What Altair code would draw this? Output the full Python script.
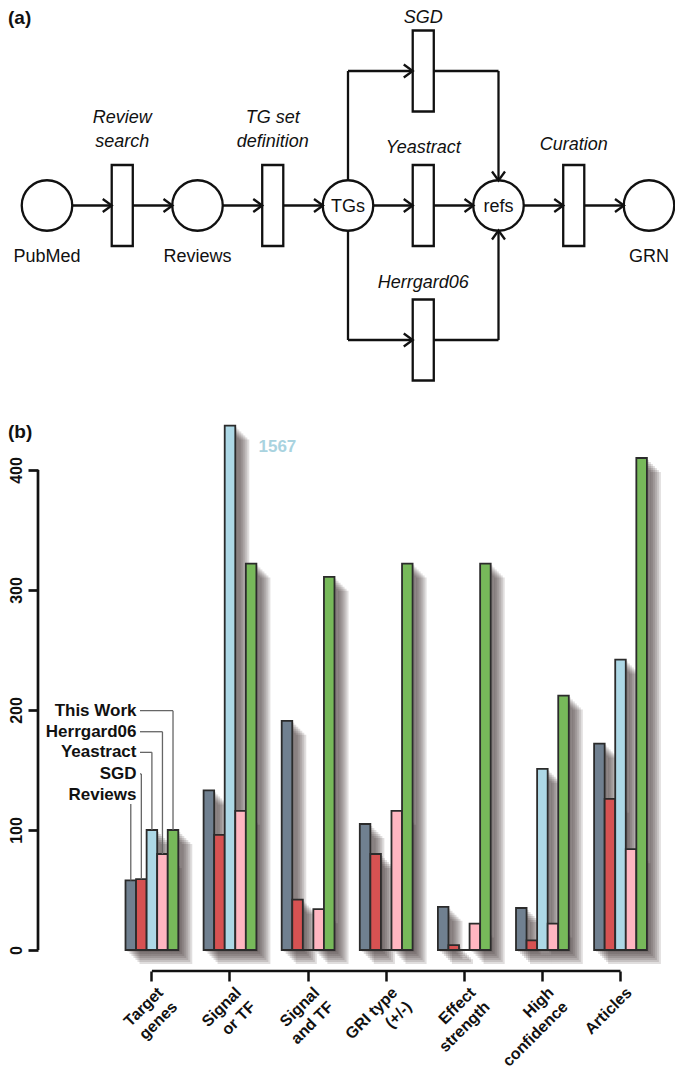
import altair as alt
import pandas as pd

FONT = "Liberation Sans"
INK = "#111111"

# ---------------- panel (b): values ----------------
categories = ["Target\ngenes", "Signal\nor TF", "Signal\nand TF", "GRI type\n(+/-)",
              "Effect\nstrength", "High\nconfidence", "Articles"]
series = ["Reviews", "SGD", "Yeastract", "Herrgard06", "This Work"]
reviews = [58, 133, 191, 105, 36, 35, 172]
sgd = [59, 96, 42, 80, 4, 8, 126]
yeastract = [100, 1567, 0, 0, 0, 151, 242]
herrgard06 = [80, 116, 34, 116, 22, 22, 84]
this_work = [100, 322, 311, 322, 322, 212, 410]
series_colors = ["#708090", "#d65252", "#add8e6", "#ffb6c1", "#77b95a"]
y_ticks = [0, 100, 200, 300, 400]

# hand-drawn legend (levels in value units)
legend_text_level = [129, 146.7, 164.7, 181.9, 199.4]
legend_line_top = [121.7, 146.7, 164.7, 181.9, 199.4]
legend_hline = [False, True, True, True, True]

# ---------------- panel (a): flow diagram ----------------
circle_names = ["PubMed", "Reviews", "TGs", "refs", "GRN"]
circle_step = [0, 2, 4, 6, 8]
circle_row = [0, 0, 0, 0, 0]
circle_inside = [False, False, True, True, False]

rect_names = ["Review\nsearch", "TG set\ndefinition", "SGD", "Yeastract", "Herrgard06", "Curation"]
rect_step = [1, 3, 5, 5, 5, 7]
rect_row = [0, 0, -1, 0, 1, 0]
rect_label_kind = ["two", "two", "top", "one", "one", "high"]

edge_s1 = [0, 4, 4, 6, 4, 4, 6]
edge_r1 = [0, 0, -1, -1, 0, 1, 1]
edge_s2 = [8, 4, 6, 6, 4, 6, 6]
edge_r2 = [0, -1, -1, 0, 1, 1, 0]

circle_arrow_step = [2, 4, 6, 8, 6, 6]
circle_arrow_row = [0, 0, 0, 0, 0, 0]
circle_arrow_angle = [0, 0, 0, 0, 90, 270]

# ---------------- layout constants (chart px = page px - 8) ----------------
VIEW_W, VIEW_H = 667, 1063
X_AXIS_Y = 963
X0_B, X1_B, PAD_IN = 117.5, 638.9, 0.324
Y0_B, Y1_B, YMAX = 942, 417.6, 437

RECT_PATH = "M-0.26,-1L0.26,-1L0.26,1L-0.26,1Z"
ARROW_RECT = "M-0.39,-0.13L-0.21,0L-0.39,0.13"
ARROW_CIRCLE = "M-0.68,-0.13L-0.5,0L-0.68,0.13"

# ---------------- data frames ----------------
bars_df = pd.DataFrame(
    [{"cat": c, "series": s, "value": v}
     for s, vals in zip(series, [reviews, sgd, yeastract, herrgard06, this_work])
     for c, v in zip(categories, vals)]
)
cat_df = pd.DataFrame({"cat": categories})
first_vals = [reviews[0], sgd[0], yeastract[0], herrgard06[0], this_work[0]]
legend_df = pd.DataFrame({
    "cat": [categories[0]] * len(series), "series": series, "value": first_vals,
    "level": legend_text_level, "top": legend_line_top, "hline": legend_hline,
})
circles_df = pd.DataFrame({"name": circle_names, "step": circle_step, "row": circle_row,
                           "inside": circle_inside})
rects_df = pd.DataFrame({"name": rect_names, "step": rect_step, "row": rect_row,
                         "kind": rect_label_kind})
edges_df = pd.DataFrame({"s1": edge_s1, "r1": edge_r1, "s2": edge_s2, "r2": edge_r2})
carrow_df = pd.DataFrame({"step": circle_arrow_step, "row": circle_arrow_row,
                          "angle": circle_arrow_angle})
one_df = pd.DataFrame({"k": [0]})

# ---------------- panel (a) layers ----------------


def dX(f):
    return alt.X(f, type="quantitative", axis=None,
                 scale=alt.Scale(domain=[0, 8], range=[39, 641]))


def dY(f):
    return alt.Y(f, type="quantitative", axis=None,
                 scale=alt.Scale(domain=[-1, 1], range=[63, 332]))


edges = alt.Chart(edges_df).mark_rule(color=INK, strokeWidth=2.3).encode(
    x=dX("s1"), x2="s2:Q", y=dY("r1"), y2="r2:Q")
circles = alt.Chart(circles_df).mark_point(
    shape="circle", size=2550, filled=True, fill="white", stroke=INK,
    strokeWidth=2.3, opacity=1).encode(x=dX("step"), y=dY("row"))
rects = alt.Chart(rects_df).mark_point(
    shape=RECT_PATH, size=6561, filled=True, fill="white", stroke=INK,
    strokeWidth=2.3, opacity=1).encode(x=dX("step"), y=dY("row"))
rect_arrows = alt.Chart(rects_df).mark_point(
    shape=ARROW_RECT, size=10000, filled=False, stroke=INK, strokeWidth=2.3,
    opacity=1, strokeJoin="miter").encode(x=dX("step"), y=dY("row"))
circle_arrows = alt.Chart(carrow_df).mark_point(
    shape=ARROW_CIRCLE, size=10000, filled=False, stroke=INK, strokeWidth=2.3,
    opacity=1, strokeJoin="miter").encode(
    x=dX("step"), y=dY("row"), angle=alt.Angle("angle:Q", scale=None))

txt = dict(font=FONT, fontSize=18, color=INK)
inner_labels = alt.Chart(circles_df).transform_filter("datum.inside").mark_text(
    align="center", baseline="middle", dy=1, **txt).encode(
    x=dX("step"), y=dY("row"), text="name:N")
outer_labels = alt.Chart(circles_df).transform_filter("!datum.inside").mark_text(
    align="center", baseline="alphabetic", dy=56, **txt).encode(
    x=dX("step"), y=dY("row"), text="name:N")


def step_label(kind, dy, **extra):
    return alt.Chart(rects_df).transform_filter(f"datum.kind == '{kind}'").mark_text(
        align="center", baseline="bottom", dy=dy, fontStyle="italic", **extra, **txt
    ).encode(x=dX("step"), y=dY("row"), text="name:N")


step_labels = [
    step_label("two", -79, lineBreak="\n", lineHeight=24),
    step_label("top", -44),
    step_label("one", -48.5),
    step_label("high", -52),
]

panel_a = alt.Chart(one_df).mark_text(
    text="(a)", align="left", baseline="middle", font=FONT, fontSize=19,
    fontWeight="bold", color=INK).encode(x=alt.value(0), y=alt.value(9.5))
panel_b = alt.Chart(one_df).mark_text(
    text="(b)", align="left", baseline="middle", font=FONT, fontSize=19,
    fontWeight="bold", color=INK).encode(x=alt.value(0), y=alt.value(424))

# ---------------- panel (b) layers ----------------


def bX(shift=0.0, axis=None):
    return alt.X("cat:N", sort=categories, title=None, axis=axis,
                 scale=alt.Scale(type="band", domain=categories,
                                 range=[X0_B + shift, X1_B + shift],
                                 paddingInner=PAD_IN, paddingOuter=0))


def yscale(shift=0.0):
    return alt.Scale(domain=[0, YMAX], range=[Y0_B + shift, Y1_B + shift],
                     clamp=True, nice=False, zero=True)


def bY(field="value:Q", shift=0.0, axis=None):
    return alt.Y(field, title=None, axis=axis, scale=yscale(shift))


def bOff():
    return alt.XOffset("series:N", sort=series,
                       scale=alt.Scale(type="band", domain=series,
                                       paddingInner=0, paddingOuter=0))


shadows = []
for d in [2, 4, 6, 8, 10, 12, 14]:
    shadows.append(
        alt.Chart(bars_df).mark_bar(color="#3a2e2e", opacity=0.155, strokeWidth=0).encode(
            x=bX(d), xOffset=bOff(), y=bY(shift=d)))

x_axis = alt.Axis(orient="bottom", offset=X_AXIS_Y - VIEW_H, domain=False, grid=False,
                  ticks=True, tickSize=10, tickWidth=2.5, tickColor=INK,
                  labelAngle=315, labelAlign="right", labelBaseline="top",
                  labelFont=FONT, labelFontSize=16, labelFontWeight="bold",
                  labelColor=INK, labelLineHeight=20,
                  labelExpr="split(datum.value, '\\n')", labelPadding=3,
                  labelOffset=3, labelOverlap=False, labelBound=False, labelFlush=False)
y_axis = alt.Axis(orient="left", offset=-30, domain=False, grid=False, values=y_ticks,
                  tickSize=10, tickWidth=2.7, tickColor=INK, labelAngle=270,
                  labelAlign="center", labelBaseline="bottom", labelPadding=4,
                  labelFont=FONT, labelFontSize=16, labelFontWeight="bold",
                  labelColor=INK)

bars = alt.Chart(bars_df).mark_bar(stroke="#2b2b2b", strokeWidth=1.8).encode(
    x=bX(axis=x_axis), xOffset=bOff(), y=bY(axis=y_axis),
    color=alt.Color("series:N", scale=alt.Scale(domain=series, range=series_colors),
                    legend=None))

y_line = alt.Chart(one_df).mark_rule(color=INK, strokeWidth=2.7).encode(
    x=alt.value(30),
    y=alt.Y(datum=y_ticks[0], type="quantitative", scale=yscale(), axis=None),
    y2=alt.Y2(datum=y_ticks[-1]))
x_line = alt.Chart(cat_df).mark_line(color=INK, strokeWidth=2.5).encode(
    x=bX(), y=alt.value(X_AXIS_Y))

leader_v = alt.Chart(legend_df).mark_rule(color="#666666", strokeWidth=1.3).encode(
    x=bX(), xOffset=bOff(), y=bY(), y2="top:Q")
leader_h = alt.Chart(legend_df).transform_filter("datum.hline").mark_rule(
    color="#666666", strokeWidth=1.3).encode(
    x=bX(), xOffset=bOff(), x2=alt.value(132), y=bY("level:Q"))
legend_txt = alt.Chart(legend_df).mark_text(
    align="right", baseline="middle", font=FONT, fontSize=17, fontWeight="bold",
    color=INK).encode(x=alt.value(128.5), y=bY("level:Q"), text="series:N")

off_scale = alt.Chart(bars_df).transform_filter(f"datum.value > {YMAX}").mark_text(
    align="left", baseline="middle", dx=28.5, dy=21, font=FONT, fontSize=17,
    fontWeight="bold", color="#a9d3df").encode(
    x=bX(), xOffset=bOff(), y=bY(), text="value:Q")

chart = alt.layer(
    edges, circles, rects, rect_arrows, circle_arrows,
    inner_labels, outer_labels, *step_labels, panel_a, panel_b,
    *shadows, bars, y_line, x_line, leader_v, leader_h, legend_txt, off_scale
).resolve_scale(
    x="independent", y="independent", xOffset="independent"
).properties(
    width=VIEW_W, height=VIEW_H, padding=0, background="white",
    autosize=alt.AutoSizeParams(type="none")
).configure_view(strokeWidth=0)

chart.save("out.html", embed_options={"renderer": "svg", "actions": False})
